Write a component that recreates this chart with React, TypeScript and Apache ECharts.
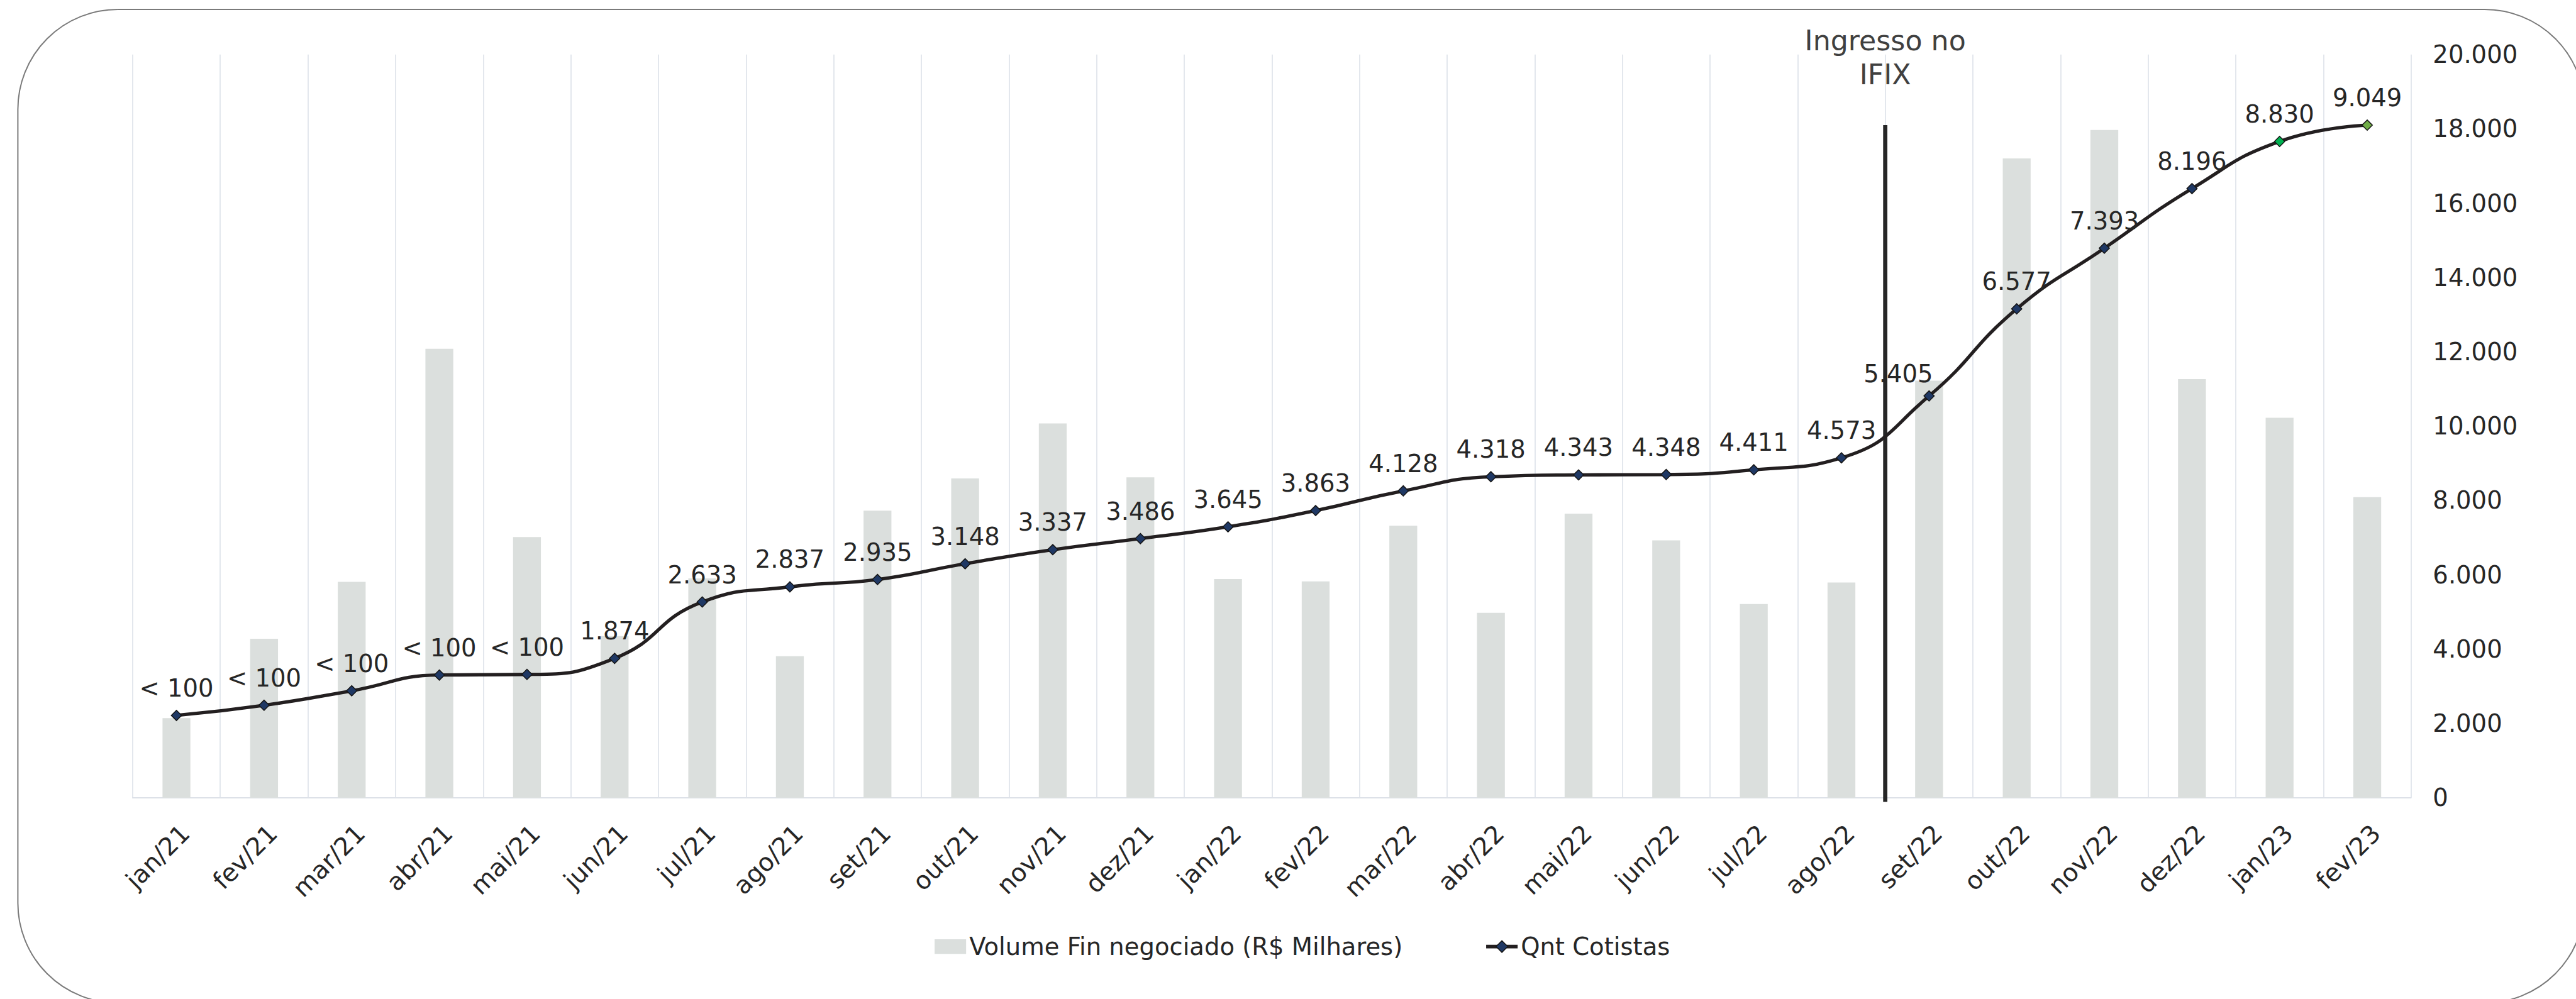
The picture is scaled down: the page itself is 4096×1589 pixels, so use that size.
import React, { useEffect, useRef } from 'react';
import * as echarts from 'echarts';

const S = 0.963;
const FONT = "'DejaVu Sans', 'Noto Sans', sans-serif";

const categories = [
  'jan/21', 'fev/21', 'mar/21', 'abr/21', 'mai/21', 'jun/21', 'jul/21', 'ago/21', 'set/21',
  'out/21', 'nov/21', 'dez/21', 'jan/22', 'fev/22', 'mar/22', 'abr/22', 'mai/22', 'jun/22',
  'jul/22', 'ago/22', 'set/22', 'out/22', 'nov/22', 'dez/22', 'jan/23', 'fev/23',
];

// Volume Fin negociado (R$ Milhares) – right axis
const volumeFin = [
  2140, 4275, 5806, 12080, 7013, 4350, 5900, 3808, 7723, 8591, 10073, 8620, 5884,
  5822, 7318, 4975, 7642, 6925, 5212, 5790, 11220, 17204, 17967, 11264, 10225, 8088,
];

// Qnt Cotistas – hidden secondary axis (0–10.000)
const qntCotistas = [
  1107, 1243, 1438, 1650, 1658, 1874, 2633, 2837, 2935, 3148, 3337, 3486, 3645,
  3863, 4128, 4318, 4343, 4348, 4411, 4573, 5405, 6577, 7393, 8196, 8830, 9049,
];

const dataLabels = [
  '< 100', '< 100', '< 100', '< 100', '< 100', '1.874', '2.633', '2.837', '2.935',
  '3.148', '3.337', '3.486', '3.645', '3.863', '4.128', '4.318', '4.343', '4.348',
  '4.411', '4.573', '5.405', '6.577', '7.393', '8.196', '8.830', '9.049',
];

const markerColors = [
  '#1f3864', '#1f3864', '#1f3864', '#1f3864', '#1f3864', '#1f3864', '#1f3864', '#1f3864', '#1f3864',
  '#1f3864', '#1f3864', '#1f3864', '#1f3864', '#1f3864', '#1f3864', '#1f3864', '#1f3864', '#1f3864',
  '#1f3864', '#1f3864', '#1f3864', '#1f3864', '#1f3864', '#1f3864', '#00b050', '#70ad47',
];

const yTicks = { min: 0, max: 20000, interval: 2000 };
const ifixBefore = 'ago/22';
const ifixAfter = 'set/22';
const ifixLineTop = 18100;
const ifixText = 'Ingresso no\nIFIX';

const fmt = (v: number) => String(Math.round(v)).replace(/\B(?=(\d{3})+(?!\d))/g, '.');

export default function App() {
  const ref = useRef<HTMLDivElement>(null);

  useEffect(() => {
    document.body.style.margin = '0';
    const chart = echarts.init(ref.current!, null, { renderer: 'svg' });
    const fs = 40 * S;
    const textColor = '#262626';

    const option: any = {
      animation: false,
      backgroundColor: '#ffffff',
      textStyle: { fontFamily: FONT },
      grid: { left: 219 * S, right: 4096 - 3981 * S, top: 90 * S, bottom: 1589 - 1317.5 * S, containLabel: false },
      legend: {
        left: 1538 * S,
        top: 1538 * S,
        itemWidth: 52 * S,
        itemHeight: 24 * S,
        itemGap: 130,
        textStyle: { fontSize: fs, color: textColor, fontFamily: FONT },
        data: [
          { name: 'Volume Fin negociado (R$ Milhares)', icon: 'rect' },
          {
            name: 'Qnt Cotistas',
            lineStyle: { width: 6 * S, color: '#231f20' },
            itemStyle: { color: '#1f3864', borderColor: '#151515', borderWidth: 1.5 },
          },
        ],
      },
      xAxis: {
        type: 'category',
        data: categories,
        boundaryGap: true,
        axisTick: { show: false },
        axisLine: { lineStyle: { color: '#dde1e8', width: 2 } },
        splitLine: { show: true, lineStyle: { color: '#e3e7ed', width: 2 } },
        axisLabel: {
          interval: 0,
          rotate: 45,
          margin: 36,
          verticalAlign: 'top',
          fontSize: 41 * S,
          color: textColor,
          fontFamily: FONT,
        },
      },
      yAxis: [
        {
          type: 'value',
          position: 'right',
          min: yTicks.min,
          max: yTicks.max,
          interval: yTicks.interval,
          splitLine: { show: false },
          axisLine: { show: false },
          axisTick: { show: false },
          axisLabel: { margin: 36 * S, fontSize: fs, color: textColor, fontFamily: FONT, formatter: fmt },
        },
        { type: 'value', min: 0, max: 10000, show: false, splitLine: { show: false } },
      ],
      series: [
        {
          name: 'Volume Fin negociado (R$ Milhares)',
          type: 'bar',
          yAxisIndex: 0,
          data: volumeFin,
          barWidth: 46 * S,
          itemStyle: { color: '#dbdfdd' },
          z: 2,
        },
        {
          name: 'Qnt Cotistas',
          type: 'line',
          yAxisIndex: 1,
          smooth: 0.5,
          symbol: 'diamond',
          symbolSize: 17 * S,
          data: qntCotistas.map((v, i) => {
            const item: any = { value: v, itemStyle: { color: markerColors[i] } };
            if (i === 20) item.label = { offset: [-49, 8] };
            return item;
          }),
          lineStyle: { color: '#231f20', width: 5.5 * S },
          itemStyle: { color: '#1f3864', borderColor: '#151515', borderWidth: 1.5 },
          label: {
            show: true,
            position: 'top',
            distance: 15,
            fontSize: fs,
            color: textColor,
            fontFamily: FONT,
            formatter: (p: any) => dataLabels[p.dataIndex],
          },
          z: 5,
        },
      ],
    };
    chart.setOption(option);

    const xa = chart.convertToPixel({ xAxisIndex: 0 }, ifixBefore) as number;
    const xb = chart.convertToPixel({ xAxisIndex: 0 }, ifixAfter) as number;
    const xm = (xa + xb) / 2;
    const yTop = chart.convertToPixel({ yAxisIndex: 0 }, ifixLineTop) as number;
    const yBase = chart.convertToPixel({ yAxisIndex: 0 }, 0) as number;

    chart.setOption({
      graphic: {
        elements: [
          {
            type: 'rect',
            z: -1,
            silent: true,
            shape: { x: 29.5 * S, y: 15.6 * S, width: (4267.6 - 29.5) * S, height: (1656.6 - 15.6) * S, r: 165 * S },
            style: { fill: 'none', stroke: '#7a7a7a', lineWidth: 2 },
          },
          {
            type: 'line',
            z: 3,
            shape: { x1: xm, y1: yTop, x2: xm, y2: yBase + 7 * S },
            style: { stroke: '#262626', lineWidth: 7 * S },
          },
          {
            type: 'text',
            z: 3,
            x: xm,
            y: 39 * S,
            style: {
              text: ifixText,
              align: 'center',
              verticalAlign: 'top',
              fontSize: 46 * S,
              lineHeight: 56 * S,
              fill: '#404040',
              fontFamily: FONT,
            },
          },
        ],
      },
    });

    return () => chart.dispose();
  }, []);

  return <div ref={ref} style={{ position: 'absolute', left: 0, top: 0, width: 4096, height: 1589 }} />;
}
